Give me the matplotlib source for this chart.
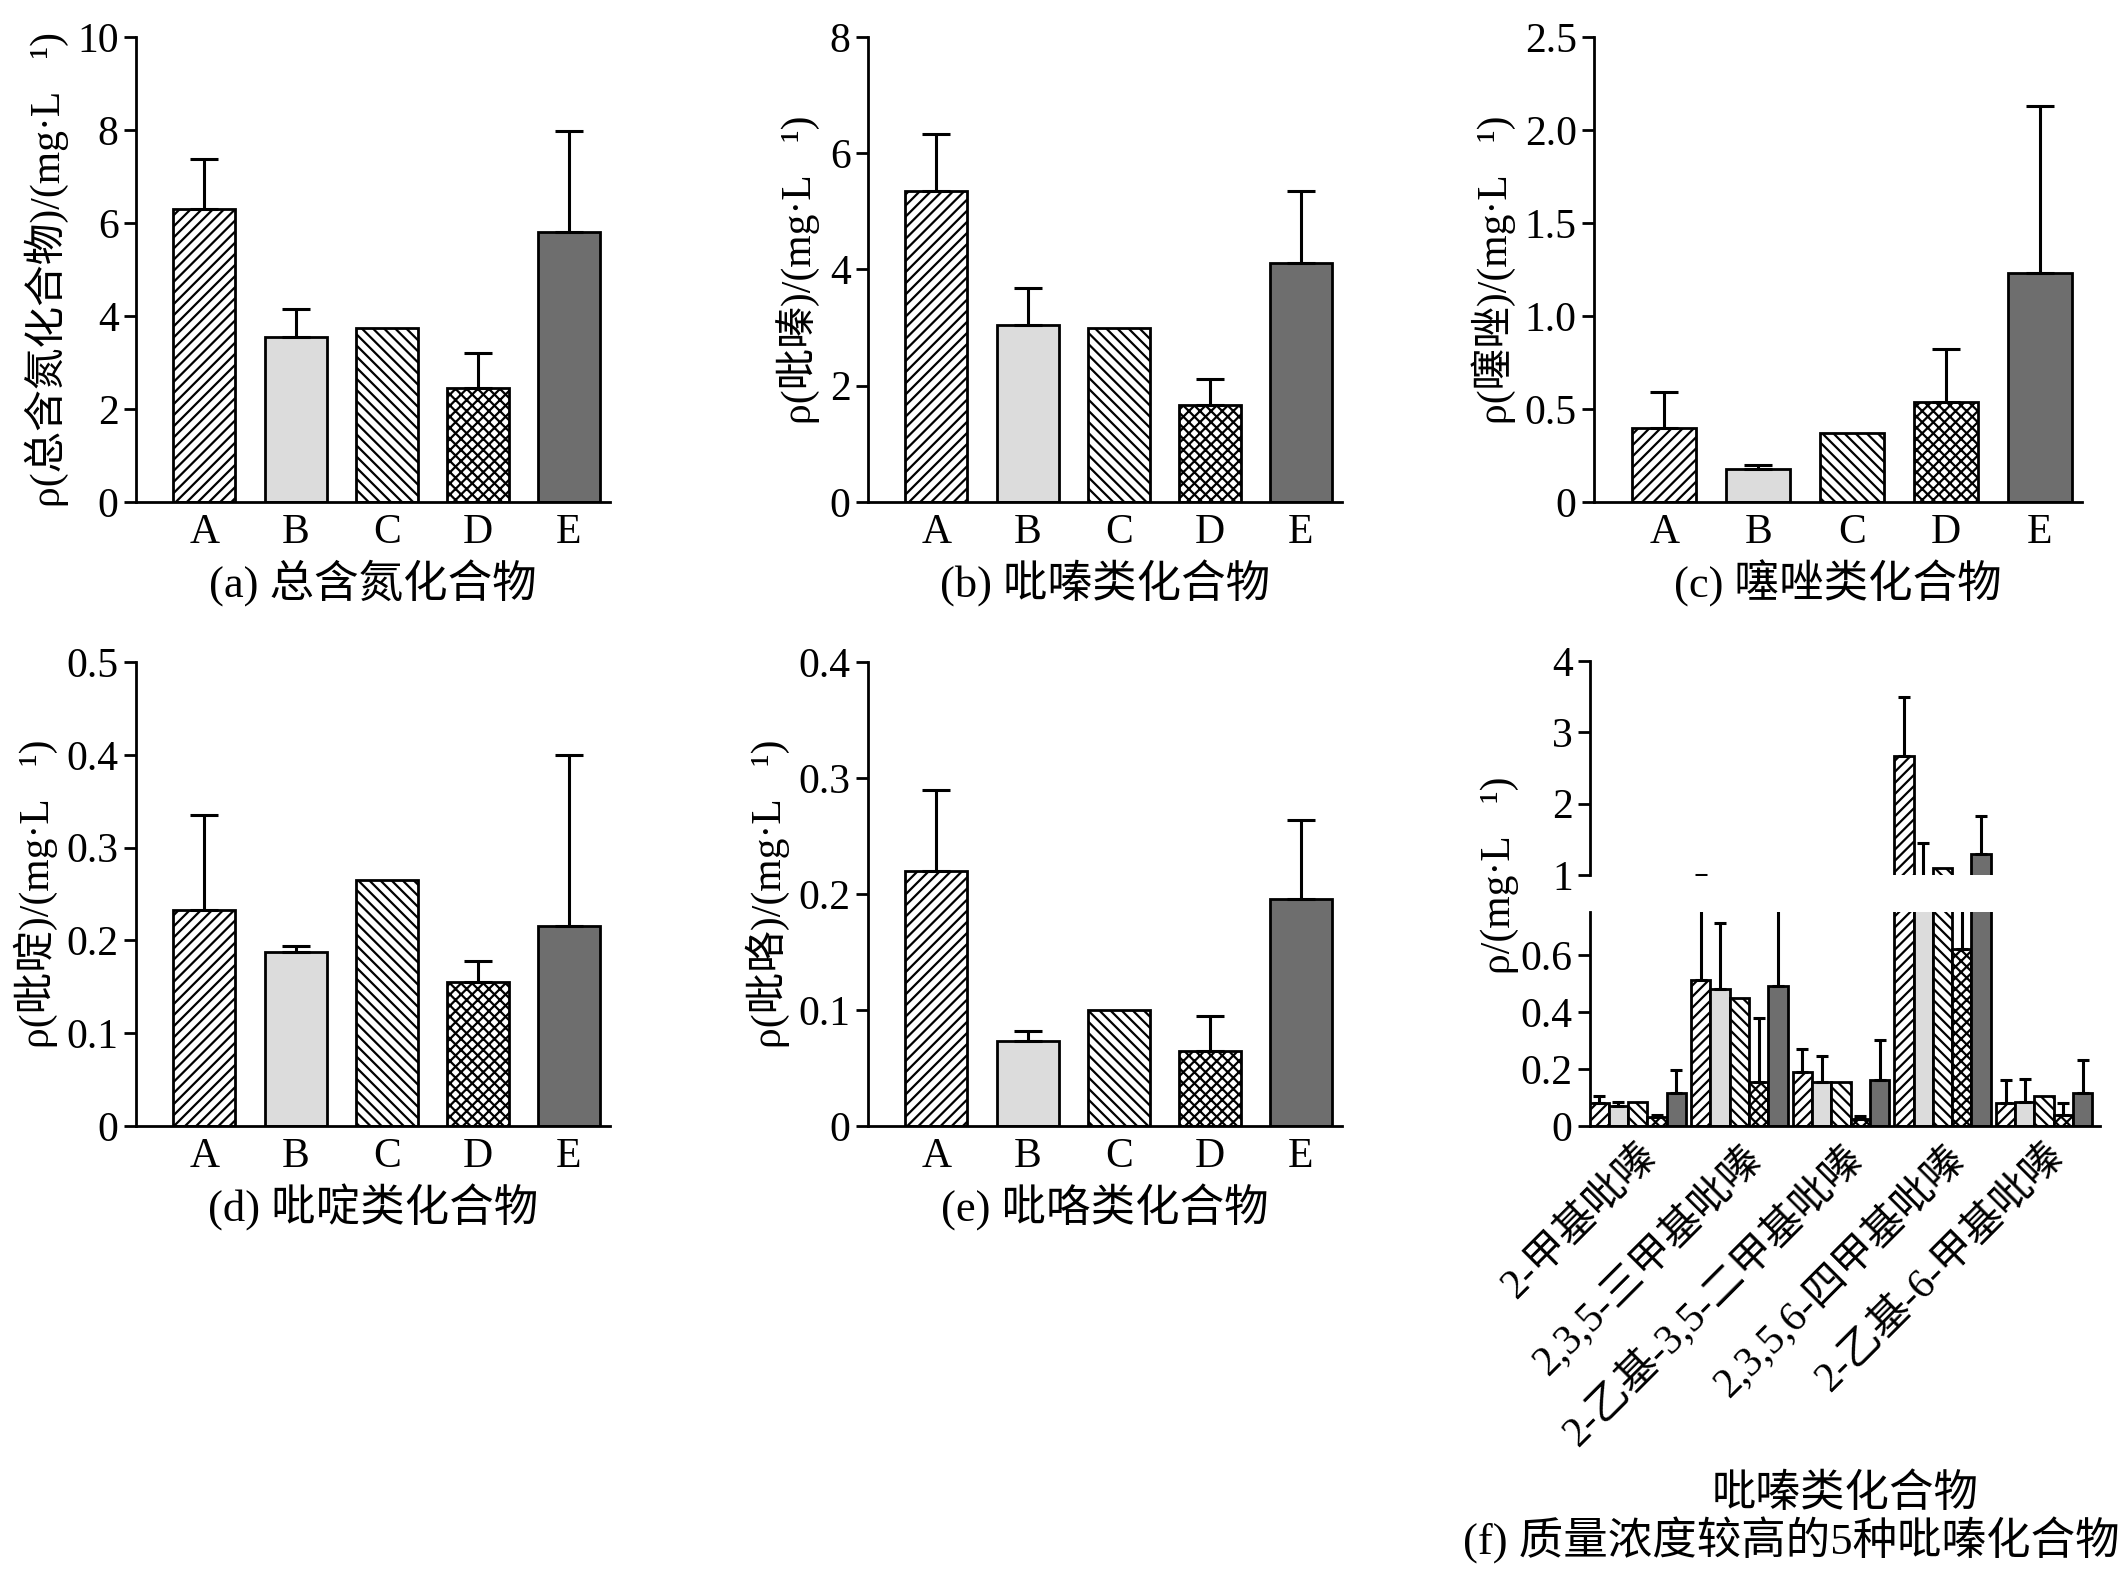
import matplotlib.pyplot as plt
import numpy as np

plt.rcParams['font.family'] = ['Liberation Serif', 'Noto Sans CJK SC']
plt.rcParams['hatch.linewidth'] = 1.6

cats = ['A', 'B', 'C', 'D', 'E']
# bar value and top of error bar
tn = [6.3, 3.55, 3.75, 2.45, 5.8]
tn_top = [7.38, 4.15, 3.75, 3.2, 7.97]
pz = [5.35, 3.05, 3.0, 1.67, 4.12]
pz_top = [6.33, 3.68, 3.0, 2.12, 5.35]
tz = [0.40, 0.18, 0.37, 0.54, 1.23]
tz_top = [0.59, 0.20, 0.37, 0.82, 2.13]
py = [0.233, 0.187, 0.265, 0.155, 0.215]
py_top = [0.335, 0.194, 0.265, 0.178, 0.40]
pl = [0.22, 0.073, 0.10, 0.065, 0.196]
pl_top = [0.29, 0.082, 0.10, 0.095, 0.264]

comp = ['2-甲基吡嗪', '2,3,5-三甲基吡嗪', '2-乙基-3,5-二甲基吡嗪', '2,3,5,6-四甲基吡嗪', '2-乙基-6-甲基吡嗪']
# rows: compounds, cols: A..E
f_val = [[0.08, 0.07, 0.085, 0.03, 0.115],
         [0.51, 0.48, 0.45, 0.155, 0.49],
         [0.19, 0.155, 0.155, 0.025, 0.16],
         [2.67, 0.90, 1.10, 0.62, 1.30],
         [0.08, 0.085, 0.105, 0.04, 0.115]]
f_top = [[0.105, 0.085, 0.085, 0.04, 0.195],
         [1.0, 0.71, 0.45, 0.38, 0.95],
         [0.27, 0.245, 0.155, 0.035, 0.30],
         [3.5, 1.45, 1.10, 0.90, 1.83],
         [0.16, 0.165, 0.105, 0.08, 0.23]]

styles = [dict(facecolor='white', hatch='///'),
          dict(facecolor='#dcdcdc', hatch=None),
          dict(facecolor='white', hatch='\\\\\\'),
          dict(facecolor='white', hatch='xxx'),
          dict(facecolor='#6e6e6e', hatch=None)]

W, H = 2127, 1570
fig = plt.figure(figsize=(W / 100, H / 100), dpi=100)

def ax_px(l, t, r, b):
    return fig.add_axes([l / W, 1 - b / H, (r - l) / W, (b - t) / H])

def style_ax(ax):
    for s in ['top', 'right']:
        ax.spines[s].set_visible(False)
    for s in ['left', 'bottom']:
        ax.spines[s].set_linewidth(2)
    ax.tick_params(axis='y', direction='out', length=9, width=2, labelsize=30)
    ax.tick_params(axis='x', length=0, labelsize=30, pad=8)

def panel(ax, vals, tops, ymax, step, ylabel, caption, fmt):
    x = np.arange(5)
    for i in range(5):
        ax.bar(x[i], vals[i], width=0.68, edgecolor='black', linewidth=2, **styles[i])
        e = tops[i] - vals[i]
        if e > 0:
            ax.errorbar(x[i], vals[i], yerr=[[0], [e]], fmt='none', ecolor='black',
                        elinewidth=2.2, capsize=10, capthick=2.2)
    ax.set_xlim(-0.75, 4.45)
    ax.set_ylim(0, ymax)
    ticks = np.arange(0, ymax + step / 2, step)
    ax.set_yticks(ticks)
    ax.set_yticklabels([fmt(t) for t in ticks])
    ax.set_xticks(x)
    ax.set_xticklabels(cats)
    ax.set_ylabel(ylabel, fontsize=30, labelpad=6)
    ax.set_xlabel(caption, fontsize=32, labelpad=6)
    style_ax(ax)

fi = lambda t: '%d' % round(t)
f1 = lambda t: '0' if t == 0 else '%.1f' % t

ax = ax_px(136, 37, 610, 502)
panel(ax, tn, tn_top, 10, 2, 'ρ(总含氮化合物)/(mg·L⁻¹)', '(a) 总含氮化合物', fi)
ax = ax_px(868, 37, 1342, 502)
panel(ax, pz, pz_top, 8, 2, 'ρ(吡嗪)/(mg·L⁻¹)', '(b) 吡嗪类化合物', fi)
ax = ax_px(1594, 37, 2082, 502)
panel(ax, tz, tz_top, 2.5, 0.5, 'ρ(噻唑)/(mg·L⁻¹)', '(c) 噻唑类化合物', f1)
ax = ax_px(136, 662, 610, 1126)
panel(ax, py, py_top, 0.5, 0.1, 'ρ(吡啶)/(mg·L⁻¹)', '(d) 吡啶类化合物', f1)
ax = ax_px(868, 662, 1342, 1126)
panel(ax, pl, pl_top, 0.4, 0.1, 'ρ(吡咯)/(mg·L⁻¹)', '(e) 吡咯类化合物', f1)

# panel f: broken axis
axt = ax_px(1590, 661, 2100, 875)
axb = ax_px(1590, 912, 2100, 1126)
bw = 0.19
for a in (axt, axb):
    for g in range(5):
        for i in range(5):
            xx = g + (i - 2) * bw
            a.bar(xx, f_val[g][i], width=bw, edgecolor='black', linewidth=2, **styles[i])
            e = f_top[g][i] - f_val[g][i]
            if e > 0:
                a.errorbar(xx, f_val[g][i], yerr=[[0], [e]], fmt='none', ecolor='black',
                           elinewidth=2.2, capsize=4, capthick=2.2)
    a.set_xlim(-0.47, 4.55)
    style_ax(a)
axt.set_ylim(1, 4)
axt.set_yticks([1, 2, 3, 4])
axt.spines['bottom'].set_visible(False)
axt.set_xticks([])
axb.set_ylim(0, 0.75)
axb.set_yticks([0, 0.2, 0.4, 0.6])
axb.set_yticklabels(['0', '0.2', '0.4', '0.6'])
axb.set_xticks(np.arange(5))
axb.set_xticklabels(comp, rotation=45, ha='right', rotation_mode='anchor', fontsize=30)
axb.set_xlabel('吡嗪类化合物', fontsize=32, labelpad=14)
fig.text(1500 / W, 1 - 875 / H, 'ρ/(mg·L⁻¹)', rotation=90, fontsize=30,
         ha='center', va='center')
fig.text(2120 / W, 1 - 1540 / H, '(f) 质量浓度较高的5种吡嗪化合物', fontsize=32,
         ha='right', va='center')

fig.savefig('out.png', dpi=100)
